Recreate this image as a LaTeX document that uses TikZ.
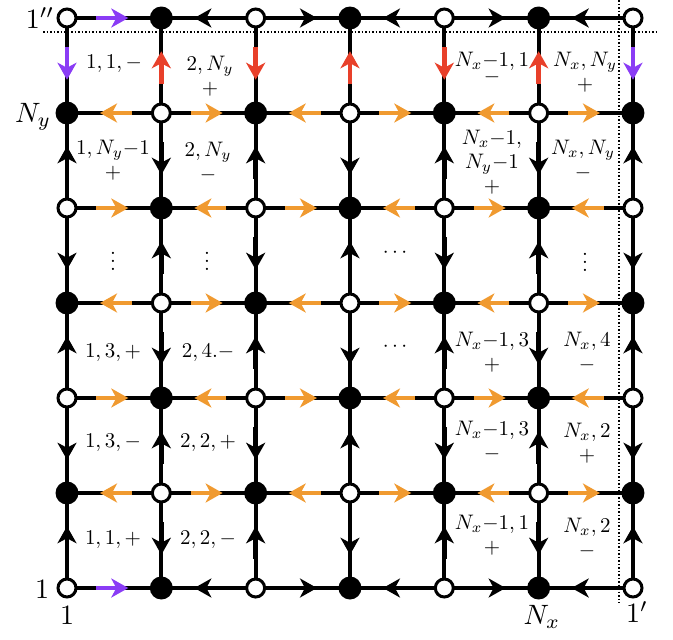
\documentclass[tikz,border=0pt]{standalone}
\usetikzlibrary{arrows.meta,calc}
\pgfdeclarelayer{bg}
\pgfsetlayers{bg,main}
\definecolor{acorange}{HTML}{F09A30}
\definecolor{acpurple}{HTML}{8A3CF5}
\definecolor{acred}{HTML}{E8402A}
\tikzset{
 wsite/.style={circle, draw=black, fill=white, line width=3pt, minimum size=18pt, inner sep=0pt},
 bsite/.style={circle, fill=black, minimum size=23pt, inner sep=0pt},
 bond/.style={line width=4pt},
 flow/.style={line width=4.5pt, -{Stealth[length=17pt,width=19pt,inset=5pt]}},
 lab/.style={font=\fontsize{10}{11.5}\selectfont, align=center, inner sep=0pt, scale=2.1},
 biglab/.style={font=\fontsize{10}{12}\selectfont, inner sep=0pt, scale=2.8},
 bound/.style={dotted, line width=1.5pt},
}
\begin{document}
\begin{tikzpicture}[x=1pt,y=-1pt]
\useasboundingbox (0,0) rectangle (673,640);
% sites
\foreach \i in {0,...,6}{
 \foreach \j in {0,...,6}{
   \pgfmathtruncatemacro\pty{mod(\i+\j,2)}
   \ifnum\pty=0
     \node[wsite] (n\i\j) at ({67+94.33*\i},{588-95*\j}) {};
   \else
     \node[bsite] (n\i\j) at ({67+94.33*\i},{588-95*\j}) {};
   \fi
 }}
% boundary dotted lines
\coordinate (dl) at (43,32);
\coordinate (dr) at (656,32);
\coordinate (dt) at (619,0);
\coordinate (db) at (619,603);
\begin{pgfonlayer}{bg}
\draw[bound] (dl) -- (dr);
\draw[bound] (dt) -- (db);
\end{pgfonlayer}
% horizontal bonds
\foreach \i in {0,...,5}{
 \foreach \j in {0,...,6}{
  \pgfmathtruncatemacro\ip{\i+1}
  \pgfmathtruncatemacro\pty{mod(\i+\j,2)}
  \ifnum\pty=0 \def\na{n\i\j}\def\nb{n\ip\j}\else\def\na{n\ip\j}\def\nb{n\i\j}\fi
  \def\ac{acorange}
  \ifnum\j=0 \def\ac{black}\fi
  \ifnum\j=6 \def\ac{black}\fi
  \ifnum\i=0 \ifnum\j=0 \def\ac{acpurple}\fi \ifnum\j=6 \def\ac{acpurple}\fi \fi
  \begin{pgfonlayer}{bg}\draw[bond] (\na.center) -- (\nb.center);\end{pgfonlayer}
  \draw[flow, draw=\ac, fill=\ac] ($(\na.center)!0.31!(\nb.center)$) -- ($(\na.center)!0.65!(\nb.center)$);
 }}
% vertical bonds
\foreach \i in {0,...,6}{
 \foreach \j in {0,...,5}{
  \pgfmathtruncatemacro\jp{\j+1}
  \pgfmathtruncatemacro\pty{mod(\i+\j,2)}
  \ifnum\pty=0 \def\na{n\i\j}\def\nb{n\i\jp}\else\def\na{n\i\jp}\def\nb{n\i\j}\fi
  \def\ac{black}
  \ifnum\j=5 \def\ac{acred}
     \ifnum\i=0 \def\ac{acpurple}\fi
     \ifnum\i=6 \def\ac{acpurple}\fi
  \fi
  \begin{pgfonlayer}{bg}\draw[bond] (\na.center) -- (\nb.center);\end{pgfonlayer}
  \draw[flow, draw=\ac, fill=\ac] ($(\na.center)!0.31!(\nb.center)$) -- ($(\na.center)!0.65!(\nb.center)$);
 }}
% plaquette labels
\node[lab] (p1) at (114,64) {$1,1,-$};
\node[lab] (p2) at (210,76) {$2,N_y$\\$+$};
\node[lab] (p3) at (492,68) {$N_x{-}1,1$\\[-4pt]$-$};
\node[lab] (p4) at (585,72) {$N_x,N_y$\\$+$};
\node[lab] (p5) at (113,160) {$1,N_y{-}1$\\$+$};
\node[lab] (p6) at (208,162) {$2,N_y$\\$-$};
\node[lab] (p7) at (492,162) {$N_x{-}1,$\\$N_y{-}1$\\$+$};
\node[lab] (p8) at (583,160) {$N_x,N_y$\\$-$};
\node[lab] (d1) at (113,255) {$\vdots$};
\node[lab] (d2) at (207,255) {$\vdots$};
\node[lab] (d3) at (395,253) {$\cdots$};
\node[lab] (d4) at (585,256) {$\vdots$};
\node[lab] (p9) at (113,353) {$1,3,+$};
\node[lab] (p10) at (208,353) {$2,4.-$};
\node[lab] (d5) at (395,347) {$\cdots$};
\node[lab] (p11) at (492,352) {$N_x{-}1,3$\\$+$};
\node[lab] (p12) at (587,352) {$N_x,4$\\$-$};
\node[lab] (p13) at (113,443) {$1,3,-$};
\node[lab] (p14) at (208,443) {$2,2,+$};
\node[lab] (p15) at (492,441) {$N_x{-}1,3$\\$-$};
\node[lab] (p16) at (587,443) {$N_x,2$\\$+$};
\node[lab] (p17) at (113,540) {$1,1,+$};
\node[lab] (p18) at (208,540) {$2,2,-$};
\node[lab] (p19) at (492,535) {$N_x{-}1,1$\\$+$};
\node[lab] (p20) at (587,538) {$N_x,2$\\$-$};
% outer labels
\node[biglab] (o1) at (40,18) {$1''$};
\node[biglab] (o2) at (33,117) {$N_y$};
\node[biglab] (o3) at (42,589) {$1$};
\node[biglab] (o4) at (67,615) {$1$};
\node[biglab] (o5) at (542,617) {$N_x$};
\node[biglab] (o6) at (637,612) {$1'$};
\end{tikzpicture}
\end{document}
